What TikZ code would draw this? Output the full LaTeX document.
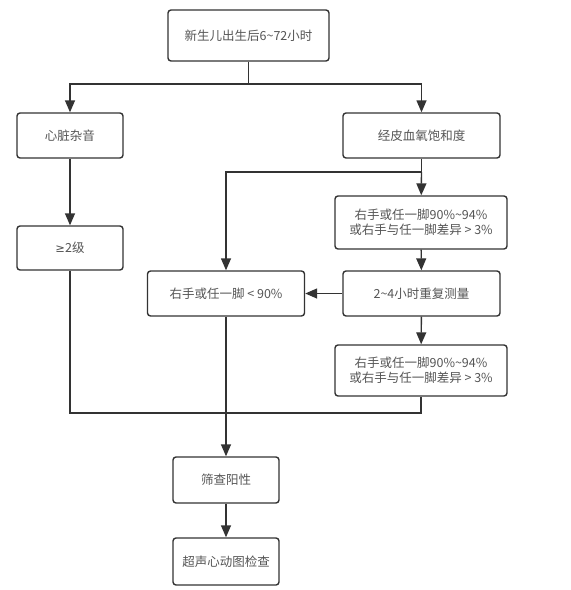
\documentclass[tikz,border=0pt]{standalone}
\usepackage{fontspec}
\newfontfamily\cjk{Noto Sans CJK SC}
\newfontfamily\sym{DejaVu Sans}
\usetikzlibrary{arrows.meta}
\definecolor{linegray}{HTML}{333333}
\definecolor{textgray}{HTML}{555555}
\tikzset{
	flowbox/.style={draw=linegray, line width=1.4pt, rounded corners=3pt, fill=white, text=textgray, font=\cjk\fontsize{12.5}{15}\selectfont, align=center, inner sep=0pt},
	flowline/.style={draw=linegray, line width=1.4pt},
	flowarrow/.style={flowline, -{Triangle[length=12pt,width=10pt]}}
}

\begin{document}
\begin{tikzpicture}[x=1pt, y=-1pt]
			%%%%% START %%%%%
			\useasboundingbox (0, 0) rectangle (571, 590);
			
			\node[flowbox, minimum width=161, minimum height=51] (birth) at (248.5, 35.5) {新生儿出生后6\textasciitilde72小时};
			
			\node[flowbox, minimum width=106, minimum height=45] (murmur) at (70, 135.5) {心脏杂音};
			\node[flowbox, minimum width=157, minimum height=45] (spo) at (421.5, 135.5) {经皮血氧饱和度};
			
			\node[flowbox, minimum width=172, minimum height=53] (border1) at (421, 222.5) {右手或任一脚90\%\textasciitilde94\%\\或右手与任一脚差异 > 3\%};
			\node[flowbox, minimum width=106, minimum height=44] (grade) at (70, 248) {{\sym\fontsize{11.5}{15}\selectfont ≥}2级};
			
			\node[flowbox, minimum width=157, minimum height=45] (low) at (226, 293.5) {右手或任一脚 < 90\%};
			\node[flowbox, minimum width=157, minimum height=45] (repeat) at (421.5, 293.5) {2\textasciitilde4小时重复测量};
			
			\node[flowbox, minimum width=172, minimum height=51] (border2) at (421, 370.5) {右手或任一脚90\%\textasciitilde94\%\\或右手与任一脚差异 > 3\%};
			
			\node[flowbox, minimum width=106, minimum height=46] (positive) at (226, 480) {筛查阳性};
			\node[flowbox, minimum width=106, minimum height=47] (echo) at (226, 561.5) {超声心动图检查};
			
			\coordinate (split) at (248.5, 84);
			\coordinate (fork) at (421.5, 172);
			\coordinate (merge) at (226, 413);
			
			\draw[flowline] (birth) -- (split);
			\draw[flowarrow] (split) -| (murmur);
			\draw[flowarrow] (split) -| (spo);
			\draw[flowarrow] (murmur) -- (grade);
			
			\draw[flowline] (spo) -- (fork);
			\draw[flowarrow] (fork) -- (border1);
			\draw[flowarrow] (fork) -| (low);
			\draw[flowarrow] (border1) -- (repeat);
			\draw[flowarrow] (repeat) -- (low);
			\draw[flowarrow] (repeat) -- (border2);
			
			\draw[flowline] (grade) |- (merge) -| (border2);
			\draw[flowarrow] (low) -- (positive);
			\draw[flowarrow] (positive) -- (echo);
			%%%%% END %%%%%
		\end{tikzpicture}
\end{document}
